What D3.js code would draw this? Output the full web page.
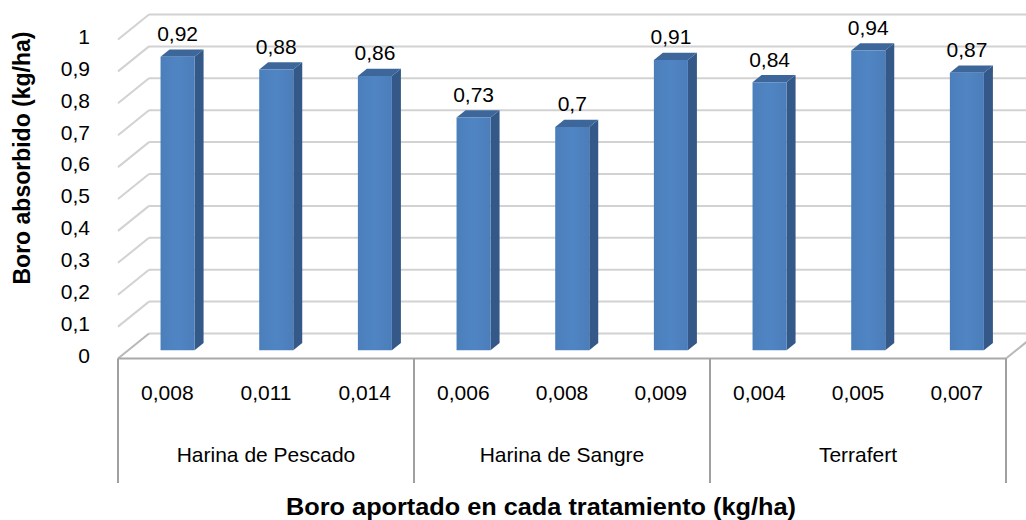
<!DOCTYPE html>
<html>
<head>
<meta charset="utf-8">
<script src="https://cdn.jsdelivr.net/npm/d3@7/dist/d3.min.js"></script>
<style>
  html, body { margin: 0; padding: 0; background: #ffffff; }
  svg { display: block; font-family: "Liberation Sans", Arial, sans-serif; }
</style>
</head>
<body>
<svg id="chart" width="1026" height="520"></svg>
<script>
// ---- data ----
const doses = ["0,008", "0,011", "0,014", "0,006", "0,008", "0,009", "0,004", "0,005", "0,007"];
const groups = ["Harina de Pescado", "Harina de Sangre", "Terrafert"];
const groupSize = [3, 3, 3];
const values = [0.92, 0.88, 0.86, 0.73, 0.70, 0.91, 0.84, 0.94, 0.87];
const yTicks = [0, 0.1, 0.2, 0.3, 0.4, 0.5, 0.6, 0.7, 0.8, 0.9, 1];
const yTitle = "Boro absorbido (kg/ha)";
const xTitle = "Boro aportado en cada tratamiento (kg/ha)";

// ---- layout ----
const frontLeft = 118, frontRight = 1006;
const depthDX = 31, depthDY = -25;       // full floor depth offset
const barFront = 0.33, barBack = 0.62;    // bar depth position (fraction of floor depth)

const svg = d3.select("#chart");
const locale = d3.formatLocale({decimal: ",", thousands: ".", grouping: [3], currency: ["", ""]});
const fmtVal = locale.format(".2~f");
const fmtTick = locale.format(".1~f");

const idx = doses.map((d, i) => i);
const x = d3.scaleBand().domain(idx).range([frontLeft, frontRight]).paddingInner(0.655).paddingOuter(0.3275);
const xCat = d3.scaleBand().domain(idx).range([frontLeft, frontRight]).padding(0);
const y = d3.scaleLinear().domain([0, 1]).range([358.5, 39.5]);

const P = (px, v, d) => [px + d * depthDX, y(v) + d * depthDY];

// ---- walls / gridlines ----
const grid = svg.append("g");
yTicks.forEach(t => {
  const a = P(frontLeft, t, 1), b = P(frontRight + 40, t, 1);
  grid.append("line").attr("x1", a[0]).attr("y1", a[1]).attr("x2", b[0]).attr("y2", b[1])
    .attr("stroke", "#d2d2d2").attr("stroke-width", 2);
  const c = P(frontLeft, t, 0);
  grid.append("line").attr("x1", c[0]).attr("y1", c[1]).attr("x2", a[0]).attr("y2", a[1])
    .attr("stroke", t === 0 ? "#b8b8b8" : "#d2d2d2").attr("stroke-width", 2);
});
{
  const a = P(frontLeft, 0, 0), b = P(frontRight, 0, 0), c = P(frontRight, 0, 1);
  grid.append("line").attr("x1", a[0]).attr("y1", a[1]).attr("x2", b[0]).attr("y2", b[1])
    .attr("stroke", "#a9a9a9").attr("stroke-width", 2.2);
  grid.append("line").attr("x1", b[0]).attr("y1", b[1]).attr("x2", c[0]).attr("y2", c[1])
    .attr("stroke", "#b8b8b8").attr("stroke-width", 2);
}

// ---- bars ----
const defs = svg.append("defs");
const gFront = defs.append("linearGradient").attr("id", "gFront").attr("x1", "0").attr("x2", "1").attr("y1", "0").attr("y2", "0");
gFront.append("stop").attr("offset", "0").attr("stop-color", "#4b7fbc");
gFront.append("stop").attr("offset", "0.5").attr("stop-color", "#5085c3");
gFront.append("stop").attr("offset", "1").attr("stop-color", "#4b7dba");

const bars = svg.append("g");
values.forEach((v, i) => {
  const x0 = x(i), x1 = x(i) + x.bandwidth();
  const f00 = P(x0, 0, barFront), f10 = P(x1, 0, barFront), f01 = P(x0, v, barFront), f11 = P(x1, v, barFront);
  const b10 = P(x1, 0, barBack), b01 = P(x0, v, barBack), b11 = P(x1, v, barBack);
  bars.append("path").attr("d", `M${f10}L${b10}L${b11}L${f11}Z`).attr("fill", "#345888");
  bars.append("path").attr("d", `M${f01}L${b01}L${b11}L${f11}Z`).attr("fill", "#3d679b");
  bars.append("path").attr("d", `M${f00}L${f10}L${f11}L${f01}Z`).attr("fill", "url(#gFront)");
  const cx = x0 + x.bandwidth() / 2 + barFront * depthDX;
  bars.append("text").attr("x", cx).attr("y", f01[1] - 15.5)
    .attr("text-anchor", "middle").attr("font-size", 21).attr("fill", "#000")
    .text(fmtVal(v));
});

// ---- y tick labels ----
const yl = svg.append("g");
yTicks.forEach(t => {
  yl.append("text").attr("x", 90).attr("y", y(t) - 3).attr("dy", "0.35em")
    .attr("text-anchor", "end").attr("font-size", 21).attr("fill", "#000")
    .text(fmtTick(t));
});

// ---- category axis (two levels) ----
const ax = svg.append("g");
const yTop = y(0), yBottom = 483;
let start = 0;
const bounds = [frontLeft];
groupSize.forEach((n, gi) => {
  const gx0 = xCat(start), gx1 = xCat(start + n - 1) + xCat.bandwidth();
  bounds.push(gx1);
  ax.append("text").attr("x", (gx0 + gx1) / 2).attr("y", 455).attr("dy", "0.35em")
    .attr("text-anchor", "middle").attr("font-size", 21).attr("fill", "#000").text(groups[gi]);
  start += n;
});
bounds.forEach(bx => {
  ax.append("line").attr("x1", bx).attr("x2", bx).attr("y1", yTop).attr("y2", yBottom)
    .attr("stroke", "#a0a0a0").attr("stroke-width", 2);
});
doses.forEach((d, i) => {
  ax.append("text").attr("x", xCat(i) + xCat.bandwidth() / 2).attr("y", 393).attr("dy", "0.35em")
    .attr("text-anchor", "middle").attr("font-size", 21).attr("fill", "#000").text(d);
});

// ---- titles ----
svg.append("text").attr("transform", "translate(541,515) scale(1.1,1)").attr("text-anchor", "middle")
  .attr("font-size", 23).attr("font-weight", "bold").attr("fill", "#000").text(xTitle);
svg.append("text").attr("transform", "translate(30,158) rotate(-90)").attr("text-anchor", "middle")
  .attr("font-size", 23).attr("font-weight", "bold").attr("fill", "#000").text(yTitle);
</script>
</body>
</html>
